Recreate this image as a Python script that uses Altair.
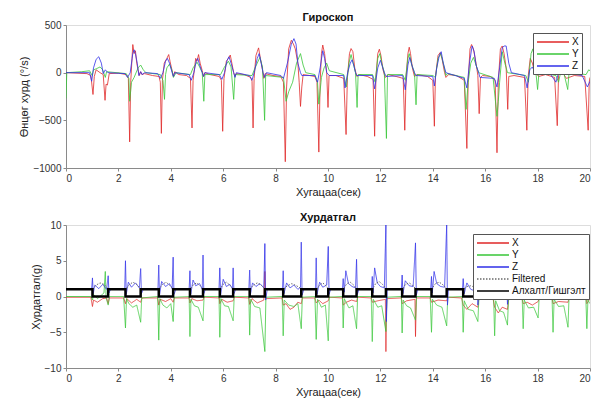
import altair as alt
import pandas as pd

FONT = "Liberation Sans"
RED, GREEN, BLUE = "#e02828", "#38c638", "#3030e8"

x_ticks = [0, 2, 4, 6, 8, 10, 12, 14, 16, 18, 20]
gyro_ticks = [-1000, -500, 0, 500]
acc_ticks = [-10, -5, 0, 5, 10]

gyro_series = ["X", "Y", "Z"]
acc_series = ["X", "Y", "Z", "Filtered", "Алхалт/Гишгэлт"]
acc_colors = [RED, GREEN, BLUE, "#6a6a6a", "#000000"]

# ---- Gyroscope (deg/s), (time, value) ----
gyro_x = [(0, 0), (0.8, -10), (0.95, -30), (1.03, -229), (1.08, -40), (1.15, 30), (1.3, 0), (1.42, -20),
          (1.49, -290), (1.53, -120), (1.58, -130), (1.65, -10), (2.0, -5), (2.3, -20), (2.38, -60),
          (2.43, -726), (2.47, -100), (2.52, 150), (2.55, 295), (2.6, 200), (2.65, 230), (2.7, 100),
          (2.75, 30), (2.8, -30), (2.85, 10), (2.9, -20), (3.0, -10), (3.3, -30), (3.55, -40), (3.6, -100),
          (3.64, -637), (3.68, -80), (3.75, 100), (3.85, 150), (3.92, 190), (3.97, 120), (4.05, 20),
          (4.1, -40), (4.15, 10), (4.3, -20), (4.6, -30), (4.75, -60), (4.81, -580), (4.85, -80),
          (4.95, 150), (5.0, 120), (5.06, 190), (5.12, 100), (5.2, 20), (5.25, -40), (5.3, 0), (5.5, -20),
          (5.85, -40), (5.93, -80), (5.98, -615), (6.03, -60), (6.12, 120), (6.2, 150), (6.27, 185),
          (6.33, 100), (6.4, 0), (6.45, -40), (6.5, -10), (6.8, -20), (7.05, -50), (7.1, -90), (7.14, -580),
          (7.18, -60), (7.25, 180), (7.3, 220), (7.35, 260), (7.42, 150), (7.5, 30), (7.55, -60), (7.6, -10),
          (7.9, -30), (8.2, -40), (8.3, -100), (8.37, -934), (8.42, -150), (8.5, 250), (8.6, 340),
          (8.68, 300), (8.75, 250), (8.85, 100), (8.9, -100), (8.95, -354), (9.0, -150), (9.05, -20),
          (9.3, -30), (9.5, -40), (9.58, -100), (9.65, -833), (9.7, -100), (9.75, 200), (9.8, 290),
          (9.87, 200), (9.95, 0), (10.0, -365), (10.04, -30), (10.3, -30), (10.6, -60), (10.69, -649),
          (10.74, -50), (10.82, 200), (10.88, 253), (10.95, 220), (11.02, 50), (11.1, -40), (11.2, -20),
          (11.5, -40), (11.72, -70), (11.78, -667), (11.83, -50), (11.9, 200), (11.96, 246), (12.02, 180),
          (12.1, 30), (12.18, -50), (12.3, -20), (12.6, -40), (12.87, -60), (12.93, -604), (12.98, -50),
          (13.05, 200), (13.1, 267), (13.15, 200), (13.22, 50), (13.3, -40), (13.4, -20), (13.8, -40),
          (14.0, -80), (14.06, -562), (14.1, -50), (14.2, 180), (14.28, 210), (14.35, 150), (14.45, 0),
          (14.5, -50), (14.6, -20), (14.9, -30), (15.2, -80), (15.3, -795), (15.35, -100), (15.42, 250),
          (15.48, 295), (15.55, 250), (15.65, 100), (15.72, -30), (15.77, -430), (15.82, -50), (15.9, -30),
          (16.2, -40), (16.38, -80), (16.45, -840), (16.5, -100), (16.58, 250), (16.65, 280), (16.72, 200),
          (16.8, 50), (16.86, -385), (16.9, -40), (17.1, -30), (17.5, -50), (17.59, -604), (17.64, -40),
          (17.72, 150), (17.8, 100), (17.9, 0), (18.05, -40), (18.3, -20), (18.65, -50), (18.75, -556),
          (18.8, -30), (18.9, 50), (19.0, -20), (19.1, -60), (19.4, -30), (19.8, -40), (19.93, -604),
          (19.97, -100), (20.0, -50)]

gyro_y = [(0.0, -270), (0.03, 0), (0.6, 10), (0.9, 20), (1.0, -30), (1.05, 30), (1.15, 40), (1.3, 60),
          (1.4, 30), (1.5, -50), (1.55, 10), (2.3, -10), (2.4, -60), (2.43, -300), (2.5, -100), (2.6, -50),
          (2.75, 50), (2.85, 80), (2.95, 30), (3.05, 0), (3.6, -20), (3.7, -80), (3.76, -280), (3.8, -20),
          (3.85, 50), (3.95, 90), (4.05, 20), (4.1, -50), (4.2, 0), (4.75, -20), (4.85, 50), (5.0, 110),
          (5.1, 60), (5.2, 0), (5.26, -300), (5.3, -20), (5.9, -20), (6.05, 60), (6.2, 120), (6.3, 60),
          (6.4, -280), (6.45, -20), (7.1, -30), (7.2, 40), (7.3, 100), (7.4, 160), (7.5, 60), (7.58, -500),
          (7.62, -30), (8.3, -50), (8.4, -300), (8.5, -200), (8.65, -100), (8.8, 100), (8.95, 200),
          (9.05, 80), (9.15, 0), (9.5, -20), (9.6, -100), (9.65, -330), (9.75, -50), (9.85, 50), (9.95, 100),
          (10.05, 20), (10.6, -20), (10.7, -150), (10.8, 100), (10.88, 190), (10.98, 80), (11.05, 0),
          (11.11, -365), (11.15, -20), (11.7, -20), (11.8, -100), (11.9, 150), (11.98, 200), (12.05, 100),
          (12.15, 0), (12.23, -690), (12.27, -20), (12.85, -20), (12.95, -80), (13.05, 150), (13.1, 200),
          (13.2, 80), (13.3, 0), (13.36, -337), (13.4, -20), (14.0, -30), (14.1, -50), (14.2, 150),
          (14.3, 200), (14.4, 100), (14.5, -30), (14.55, -10), (15.2, -50), (15.27, -385), (15.35, -100),
          (15.45, 100), (15.55, 160), (15.65, 80), (15.75, 0), (16.3, -50), (16.45, -458), (16.5, -300),
          (16.55, -100), (16.65, 220), (16.75, 100), (16.85, 0), (17.55, -30), (17.65, -100), (17.75, 200),
          (17.82, 250), (17.9, 100), (18.0, -177), (18.05, 0), (18.7, -30), (18.8, -100), (18.9, 30),
          (19.0, 0), (19.15, -177), (19.2, 0), (19.85, -20), (19.95, 30), (20.0, 20)]

gyro_z = [(0, 0), (0.9, 0), (0.98, -90), (1.05, 50), (1.15, 140), (1.25, 167), (1.35, 100), (1.42, -10),
          (1.5, 30), (1.6, 0), (2.25, -10), (2.35, -50), (2.45, 0), (2.55, 200), (2.6, 240), (2.65, 200),
          (2.72, 100), (2.78, -30), (2.85, 10), (2.9, -20), (3.0, 0), (3.5, -10), (3.6, -60), (3.7, 0),
          (3.8, 120), (3.87, 150), (3.95, 100), (4.05, 0), (4.1, -40), (4.15, 0), (4.7, -20), (4.78, -80),
          (4.88, 0), (4.98, 130), (5.03, 150), (5.1, 80), (5.2, 0), (5.25, -40), (5.3, 0), (5.85, -20),
          (5.95, -70), (6.05, 0), (6.15, 130), (6.22, 167), (6.3, 100), (6.4, 0), (6.45, -50), (6.5, 0),
          (7.0, -30), (7.1, -80), (7.2, 20), (7.3, 150), (7.37, 200), (7.45, 100), (7.52, 0), (7.58, -50),
          (7.65, 0), (8.2, -30), (8.3, -60), (8.45, 100), (8.6, 300), (8.7, 357), (8.78, 300), (8.85, 100),
          (8.95, 0), (9.0, -30), (9.5, -30), (9.6, -100), (9.7, 50), (9.8, 230), (9.87, 150), (9.95, 0),
          (10.05, -30), (10.6, -30), (10.65, -160), (10.75, 0), (10.85, 100), (10.92, 135), (11.0, 60),
          (11.05, 0), (11.1, -30), (11.7, -30), (11.78, -170), (11.9, 50), (12.0, 130), (12.08, 60),
          (12.15, 0), (12.22, -40), (12.85, -30), (12.95, -180), (13.05, 80), (13.12, 160), (13.2, 80),
          (13.3, 0), (13.36, -30), (14.0, -40), (14.06, -140), (14.15, 50), (14.25, 180), (14.32, 220),
          (14.4, 100), (14.5, 0), (15.2, -60), (15.3, -160), (15.4, 100), (15.5, 280), (15.58, 220),
          (15.65, 80), (15.75, 0), (15.8, -50), (16.35, -60), (16.45, -150), (16.55, 50), (16.65, 260),
          (16.72, 280), (16.8, 280), (16.9, 100), (17.0, 0), (17.5, -30), (17.6, -160), (17.7, 30),
          (17.8, 60), (17.9, 0), (18.5, -20), (18.7, -100), (18.8, 0), (18.9, 20), (19.0, 0), (19.7, -30),
          (19.9, -150), (20.0, -90)]

# ---- Accelerometer (g) ----
acc_x = [(0, -0.1), (0.95, -0.1), (1.01, -1.4), (1.05, -0.5), (1.2, -0.8), (1.4, -0.3), (1.55, -0.2),
         (1.61, -1.0), (1.65, -0.2), (2.2, -0.2), (2.27, -1.0), (2.32, -0.3), (2.5, -0.9), (2.7, -0.4),
         (2.85, -0.8), (2.9, -0.2), (3.5, -0.2), (3.54, -1.2), (3.6, -0.4), (3.8, -0.7), (4.0, -0.3),
         (4.09, -0.8), (4.13, -0.2), (4.7, -0.2), (4.73, -0.9), (4.8, -0.3), (5.0, -0.6), (5.23, -0.5),
         (5.27, -0.1), (5.85, -0.2), (5.87, -1.0), (5.95, -0.4), (6.15, -0.8), (6.38, -0.6), (6.42, -0.1),
         (6.98, -0.2), (7.01, -1.1), (7.1, -0.3), (7.3, -0.9), (7.55, -0.5), (7.59, 3.5), (7.62, -0.3),
         (8.25, -0.2), (8.29, -1.2), (8.4, -1.0), (8.55, -1.8), (8.7, -1.5), (8.85, -0.8), (8.98, -1.0),
         (9.02, -0.2), (9.5, -0.2), (9.55, -0.9), (9.65, -0.5), (9.8, -1.0), (10.01, -0.6), (10.05, -0.1),
         (10.55, -0.2), (10.58, -1.2), (10.7, -0.8), (10.9, -0.5), (11.09, -0.7), (11.13, -0.1),
         (11.65, -0.2), (11.69, -0.8), (11.9, -0.6), (12.19, -0.4), (12.21, -7.7), (12.24, -0.3),
         (12.8, -0.2), (12.83, -1.0), (13.0, -0.6), (13.32, -0.4), (13.34, -5.6), (13.37, -0.2),
         (13.9, -0.2), (13.95, -0.8), (14.2, -0.5), (14.53, -0.6), (14.57, -0.1), (15.1, -0.2),
         (15.16, -1.2), (15.3, -1.8), (15.5, -1.0), (15.72, -1.5), (15.76, -0.2), (16.3, -0.3),
         (16.36, -1.5), (16.5, -2.3), (16.65, -1.5), (16.85, -1.8), (16.9, -0.3), (17.4, -0.2),
         (17.45, -1.0), (17.6, -0.8), (17.8, -1.2), (18.02, -0.7), (18.06, -0.2), (18.55, -0.2),
         (18.59, -1.0), (18.8, -0.7), (19.16, -0.8), (19.2, -0.2), (19.85, -0.2), (19.88, -1.0), (20, -0.3)]

acc_y = [(0, 0.0), (0.95, 0.0), (1.01, -0.5), (1.05, 0.3), (1.2, -0.3), (1.45, 0.5), (1.5, 3.5), (1.53, -0.2),
         (1.61, -1.2), (1.66, 0.0), (2.2, 0.0), (2.27, -4.4), (2.31, -0.3), (2.4, -1.0), (2.55, -1.5),
         (2.7, -1.2), (2.85, -3.6), (2.89, -0.2), (3.5, 0.0), (3.54, -6.1), (3.58, -0.3), (3.7, -1.2),
         (3.85, -1.6), (4.0, -1.0), (4.09, -3.5), (4.13, -0.1), (4.7, 0.0), (4.73, -5.6), (4.77, -0.4),
         (4.9, -1.3), (5.05, -1.5), (5.23, -3.4), (5.27, 0.0), (5.84, 0.0), (5.87, -5.7), (5.91, -0.3),
         (6.05, -1.3), (6.2, -1.4), (6.38, -3.4), (6.42, 0.0), (6.98, 0.0), (7.01, -5.4), (7.05, -0.4),
         (7.2, -1.4), (7.4, -1.6), (7.59, -7.7), (7.63, -0.1), (8.25, 0.0), (8.29, -5.5), (8.33, -0.5),
         (8.5, -1.2), (8.7, -1.4), (8.85, -1.0), (8.98, -4.5), (9.02, -0.1), (9.5, 0.0), (9.55, -6.0),
         (9.6, -0.4), (9.75, -1.5), (9.9, -1.2), (10.01, -6.2), (10.05, -0.1), (10.55, 0.0), (10.58, -4.4),
         (10.62, -0.3), (10.8, -1.6), (10.95, -1.3), (11.09, -4.5), (11.13, 0.0), (11.65, 0.0),
         (11.69, -6.3), (11.73, -0.4), (11.9, -1.5), (12.05, -1.3), (12.21, -4.9), (12.25, -0.1),
         (12.8, 0.0), (12.83, -5.1), (12.87, -0.5), (13.0, -1.3), (13.15, -1.6), (13.34, -3.3),
         (13.38, 0.0), (13.9, 0.0), (13.95, -5.0), (13.99, -0.4), (14.15, -1.2), (14.35, -1.5),
         (14.53, -4.1), (14.57, -0.1), (15.12, 0.0), (15.16, -5.0), (15.2, -0.6), (15.35, -1.8),
         (15.55, -2.0), (15.72, -3.5), (15.76, -0.2), (16.32, 0.0), (16.36, -5.5), (16.4, -0.6),
         (16.55, -2.0), (16.7, -2.2), (16.85, -4.0), (16.89, -0.2), (17.41, 0.0), (17.45, -4.5),
         (17.49, -0.5), (17.65, -1.6), (17.85, -1.5), (18.02, -3.0), (18.06, 0.0), (18.55, 0.0),
         (18.59, -5.0), (18.63, -0.4), (18.8, -1.4), (19.0, -1.3), (19.16, -4.3), (19.2, 0.0),
         (19.84, 0.0), (19.88, -4.5), (19.92, -0.5), (20, -1.0)]

acc_z = [(0, 1.0), (0.98, 1.0), (1.01, 2.6), (1.04, 0.4), (1.1, 1.6), (1.25, 1.1), (1.4, 1.7), (1.55, 1.0),
         (1.61, 2.9), (1.64, 0.5), (1.7, 1.0), (2.24, 1.0), (2.27, 5.0), (2.3, 0.3), (2.38, 2.0),
         (2.5, 1.3), (2.65, 1.9), (2.8, 1.2), (2.85, 3.9), (2.88, 0.4), (2.95, 1.0), (3.51, 1.0),
         (3.54, 4.4), (3.57, 0.2), (3.65, 2.1), (3.8, 1.4), (3.95, 1.8), (4.05, 1.1), (4.09, 5.5),
         (4.12, 0.3), (4.2, 1.0), (4.7, 1.0), (4.73, 3.6), (4.76, 0.3), (4.85, 2.3), (4.95, 1.5),
         (5.1, 1.8), (5.2, 1.0), (5.23, 5.8), (5.26, 0.4), (5.32, 1.0), (5.84, 1.0), (5.87, 4.0),
         (5.9, 0.2), (6.0, 2.4), (6.12, 1.4), (6.25, 1.7), (6.35, 1.1), (6.38, 4.0), (6.41, 0.4),
         (6.48, 1.0), (6.98, 1.0), (7.01, 3.7), (7.04, 0.3), (7.12, 1.9), (7.25, 1.4), (7.4, 1.8),
         (7.55, 1.2), (7.59, 7.4), (7.62, -0.5), (7.68, 1.0), (8.26, 1.0), (8.29, 3.6), (8.32, 0.4),
         (8.42, 1.9), (8.55, 1.2), (8.7, 1.6), (8.85, 1.0), (8.95, 1.3), (8.98, 7.6), (9.01, 0.2),
         (9.08, 1.0), (9.52, 1.0), (9.55, 5.4), (9.58, 0.3), (9.68, 2.0), (9.8, 1.3), (9.95, 1.6),
         (10.01, 7.0), (10.04, 0.3), (10.1, 1.0), (10.55, 1.0), (10.58, 2.5), (10.62, 0.6), (10.68, 3.6),
         (10.78, 1.8), (10.92, 1.4), (11.05, 1.2), (11.09, 5.2), (11.12, 0.3), (11.18, 1.0), (11.66, 1.0),
         (11.69, 2.8), (11.72, 0.5), (11.78, 4.0), (11.88, 1.9), (12.0, 1.4), (12.15, 1.2), (12.21, 10.0),
         (12.23, -3.5), (12.26, 1.0), (12.8, 1.0), (12.83, 3.0), (12.86, 0.4), (12.95, 2.2), (13.1, 1.5),
         (13.25, 1.4), (13.34, 7.5), (13.37, 0.2), (13.43, 1.0), (13.92, 1.0), (13.95, 2.8), (13.98, 0.5),
         (14.05, 3.5), (14.15, 1.8), (14.3, 1.4), (14.45, 1.3), (14.53, 10.0), (14.56, -1.2), (14.6, 1.0),
         (15.13, 1.0), (15.16, 2.5), (15.2, 0.4), (15.3, 1.9), (15.45, 1.0), (15.6, 0.8), (15.7, 1.2),
         (15.72, -1.2), (15.76, 1.0), (16.33, 1.0), (16.36, 2.0), (16.4, 0.3), (16.55, 1.0), (16.7, 0.6),
         (16.83, 1.0), (16.85, -1.1), (16.89, 1.0), (17.42, 1.0), (17.45, 2.0), (17.5, 0.6), (17.65, 1.2),
         (17.85, 0.8), (18.0, 1.0), (18.02, 1.8), (18.06, 1.0), (18.56, 1.0), (18.59, 1.9), (18.63, 0.5),
         (18.8, 1.2), (19.0, 0.9), (19.14, 1.0), (19.16, 1.8), (19.2, 1.0), (19.85, 1.0), (19.88, 1.5),
         (19.93, 3.0), (19.97, 2.2), (20, 2.4)]

acc_filtered = [(0, 1.0), (1.01, 1.0), (1.15, 1.6), (1.3, 1.9), (1.45, 1.7), (1.61, 1.1), (2.27, 1.0),
                (2.4, 1.6), (2.55, 2.0), (2.7, 1.7), (2.85, 1.1), (3.54, 1.0), (3.68, 1.7), (3.82, 2.0),
                (3.95, 1.6), (4.09, 1.1), (4.73, 1.0), (4.85, 1.6), (4.98, 1.9), (5.1, 1.6), (5.23, 1.1),
                (5.87, 1.0), (6.0, 1.7), (6.12, 2.0), (6.25, 1.6), (6.38, 1.1), (7.01, 1.0), (7.15, 1.6),
                (7.3, 1.9), (7.45, 1.6), (7.59, 1.1), (8.29, 1.0), (8.45, 1.5), (8.62, 1.8), (8.8, 1.5),
                (8.98, 1.1), (9.55, 1.0), (9.68, 1.6), (9.8, 1.9), (9.92, 1.5), (10.01, 1.1), (10.58, 1.0),
                (10.72, 1.8), (10.85, 2.0), (10.98, 1.6), (11.09, 1.1), (11.69, 1.0), (11.82, 1.8),
                (11.95, 2.1), (12.08, 1.7), (12.21, 1.1), (12.83, 1.0), (12.96, 1.7), (13.1, 1.9),
                (13.22, 1.6), (13.34, 1.1), (13.95, 1.0), (14.1, 1.8), (14.25, 2.0), (14.4, 1.6),
                (14.53, 1.1), (15.16, 1.0), (15.3, 1.4), (15.45, 1.5), (15.6, 1.3), (15.72, 1.0),
                (16.36, 1.0), (16.5, 1.2), (16.65, 1.3), (16.85, 1.0), (17.45, 1.0), (17.6, 1.3),
                (17.75, 1.4), (18.02, 1.0), (18.59, 1.0), (18.75, 1.3), (18.9, 1.4), (19.16, 1.0),
                (19.88, 1.0), (20, 1.2)]

# step / stance detector: level 1 at start, toggles at each edge
step_edges = [1.01, 1.61, 2.27, 2.85, 3.54, 4.09, 4.73, 5.23, 5.87, 6.38, 7.01, 7.59, 8.29, 8.98, 9.55,
              10.01, 10.58, 11.09, 11.69, 12.21, 12.83, 13.34, 13.95, 14.53, 15.16, 15.72, 16.36, 16.85,
              17.45, 18.02, 18.59, 19.16, 19.88]
step_start, step_end_t = 1, 20


def to_rows(name, pts):
    return [{"t": t, "v": v, "s": name} for t, v in pts]


step_pts = [(0, step_start)]
lvl = step_start
for e in step_edges:
    step_pts.append((e, lvl))
    lvl = 1 - lvl
    step_pts.append((e, lvl))
step_pts.append((step_end_t, lvl))

gyro_df = pd.DataFrame(to_rows("X", gyro_x) + to_rows("Y", gyro_y) + to_rows("Z", gyro_z))
acc_df = pd.DataFrame(to_rows("X", acc_x) + to_rows("Y", acc_y) + to_rows("Z", acc_z)
                      + to_rows("Filtered", acc_filtered) + to_rows("Алхалт/Гишгэлт", step_pts))

AX = dict(grid=False, domainColor="#8a8a8a", tickColor="#8a8a8a", tickSize=3, labelFont=FONT,
          labelFontSize=10, labelColor="#333", titleFont=FONT, titleFontSize=11, titleFontWeight="normal",
          titleColor="#222", labelPadding=2, titlePadding=3)


def x_enc():
    return alt.X("t:Q", scale=alt.Scale(domain=[0, 20], nice=False),
                 axis=alt.Axis(values=x_ticks, title="Хугацаа(сек)", **AX))


def legend(lx, ly):
    return alt.Legend(orient="none", legendX=lx, legendY=ly, title=None, fillColor="white",
                      strokeColor="#555", padding=3, symbolType="M-1,0H5.4", symbolSize=100,
                      labelOffset=24, labelFontSize=10, labelFont=FONT, labelColor="#111",
                      rowPadding=1, columnPadding=0, symbolFillColor="transparent", labelLimit=200)


def title(txt):
    return alt.TitleParams(txt, fontSize=11, font=FONT, fontWeight="bold", offset=-3, frame="group",
                           color="#111")


top = alt.Chart(gyro_df).mark_line(strokeWidth=0.8, clip=True).encode(
    x=x_enc(),
    y=alt.Y("v:Q", scale=alt.Scale(domain=[-1000, 500], nice=False),
            axis=alt.Axis(values=gyro_ticks, format="d", title="Өнцөг хурд (°/s)", **AX)),
    color=alt.Color("s:N", scale=alt.Scale(domain=gyro_series, range=[RED, GREEN, BLUE]),
                    legend=legend(467, 8)),
).properties(width=524, height=143, title=title("Гироскоп"))

# line width: thick for the step signal; the same rule serves the plotted lines (datum.s)
# and the legend symbols (datum.value)
width_expr = "(datum.s || datum.value) === 'Алхалт/Гишгэлт' ? 2.5 : ((datum.s || datum.value) === 'Filtered' ? 1 : 0.8)"
lg = legend(407, 9)
bottom = alt.Chart(acc_df).mark_line(clip=True, strokeWidth={"expr": width_expr}).encode(
    x=x_enc(),
    y=alt.Y("v:Q", scale=alt.Scale(domain=[-10, 10], nice=False),
            axis=alt.Axis(values=acc_ticks, format="d", title="Хурдатгал(g)", **AX)),
    color=alt.Color("s:N", scale=alt.Scale(domain=acc_series, range=acc_colors), legend=lg),
    strokeDash=alt.StrokeDash("s:N", scale=alt.Scale(domain=acc_series,
                                                     range=[[1, 0], [1, 0], [1, 0], [1.5, 1.5], [1, 0]]),
                              legend=lg),
).properties(width=524, height=143, title=title("Хурдатгал"))

chart = alt.vconcat(top, bottom, spacing=13).resolve_scale(
    color="independent", strokeDash="independent"
).resolve_legend(color="independent").properties(
    padding={"left": 18, "top": 11, "right": 7, "bottom": 0}
).configure_view(stroke=None).configure(background="white")

chart.save("out.html", embed_options={"renderer": "svg", "actions": False})
